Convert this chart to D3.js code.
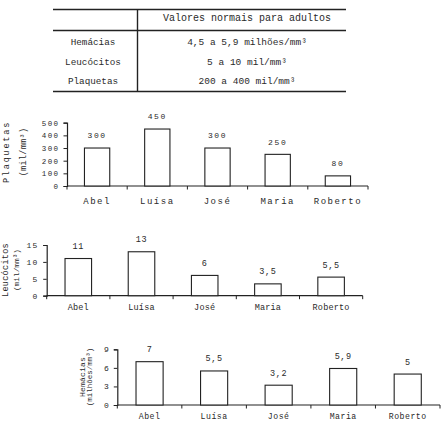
<!DOCTYPE html>
<html>
<head>
<meta charset="utf-8">
<script src="https://cdn.jsdelivr.net/npm/d3@7"></script>
<style>
  html, body { margin: 0; padding: 0; background: #fff; }
  svg text { font-family: "Liberation Mono", "DejaVu Sans Mono", monospace; fill: #2a2a2a; }
</style>
</head>
<body>
<svg id="fig" width="442" height="422"></svg>
<script>
// dados
var nomes = ["Abel", "Luísa", "José", "Maria", "Roberto"];
var plaquetas = [300, 450, 300, 250, 80];
var leucocitos = [11, 13, 6, 3.5, 5.5];
var hemacias = [7, 5.5, 3.2, 5.9, 5];
var plaquetasTicks = [0, 100, 200, 300, 400, 500];
var leucocitosTicks = [0, 5, 10, 15];
var hemaciasTicks = [0, 3, 6, 9];

var tabelaTitulo = "Valores normais para adultos";
var tabelaLinhas = ["Hemácias", "Leucócitos", "Plaquetas"];
var tabelaValores = ["4,5 a 5,9 milhões/mm³", "5 a 10 mil/mm³", "200 a 400 mil/mm³"];

var svg = d3.select("#fig");
var tinta = "#222";

// números com vírgula decimal
var fmt = d3.formatLocale({ decimal: ",", thousands: ".", grouping: [3], currency: ["", ""] }).format("~g");

// ---- tabela ----
var tab = svg.append("g");
tab.append("line").attr("x1", 53).attr("x2", 346).attr("y1", 9.5).attr("y2", 9.5)
  .attr("stroke", tinta).attr("stroke-width", 1.6);
tab.append("line").attr("x1", 53).attr("x2", 346).attr("y1", 30.5).attr("y2", 30.5)
  .attr("stroke", tinta).attr("stroke-width", 1.4);
tab.append("line").attr("x1", 53).attr("x2", 346).attr("y1", 91.5).attr("y2", 91.5)
  .attr("stroke", tinta).attr("stroke-width", 1.6);
tab.append("line").attr("x1", 137.5).attr("x2", 137.5).attr("y1", 9).attr("y2", 92)
  .attr("stroke", tinta).attr("stroke-width", 1.4);
tab.append("text").attr("x", 247).attr("y", 17.5).attr("dy", "0.35em")
  .attr("text-anchor", "middle").style("font-size", "10px").text(tabelaTitulo);

var linhaY = d3.scalePoint().domain(tabelaLinhas).range([42, 81]);
tab.selectAll("text.rot").data(tabelaLinhas).enter().append("text")
  .attr("class", "rot")
  .attr("x", 93).attr("y", function (d) { return linhaY(d); }).attr("dy", "0.35em")
  .attr("text-anchor", "middle").style("font-size", "9.3px").text(function (d) { return d; });
tab.selectAll("text.val").data(tabelaValores).enter().append("text")
  .attr("class", "val")
  .attr("x", 247).attr("y", function (d, i) { return linhaY(tabelaLinhas[i]); }).attr("dy", "0.35em")
  .attr("text-anchor", "middle").style("font-size", "9.5px").text(function (d) { return d; });

// ---- gráficos de barras ----
function grafico(cfg) {
  var g = svg.append("g");

  var x = d3.scaleBand().domain(nomes)
    .range([cfg.x0, cfg.x1])
    .paddingInner(0.58).paddingOuter(0.29);
  var y = d3.scaleLinear().domain([0, cfg.ticks[cfg.ticks.length - 1]])
    .range([cfg.y0, cfg.yTop]);

  // eixo x: linha e marcas entre categorias
  g.append("line").attr("x1", cfg.x0).attr("x2", cfg.x1)
    .attr("y1", cfg.y0).attr("y2", cfg.y0).attr("stroke", tinta).attr("stroke-width", 1.2);
  g.selectAll("line.xt").data(d3.range(nomes.length + 1)).enter().append("line")
    .attr("class", "xt")
    .attr("x1", function (i) { return cfg.x0 + i * x.step(); })
    .attr("x2", function (i) { return cfg.x0 + i * x.step(); })
    .attr("y1", cfg.y0).attr("y2", cfg.y0 + 3.5)
    .attr("stroke", tinta).attr("stroke-width", 1);

  // eixo y
  var ay = g.append("g").attr("transform", "translate(" + cfg.x0 + ",0)")
    .call(d3.axisLeft(y).tickValues(cfg.ticks).tickSize(3.5).tickPadding(cfg.tickPad).tickFormat(fmt));
  ay.select(".domain").attr("stroke", tinta).attr("stroke-width", 1.2);
  ay.selectAll(".tick line").attr("stroke", tinta);
  ay.selectAll(".tick text")
    .attr("fill", "#2a2a2a")
    .style("font-family", "Liberation Mono, monospace")
    .style("font-size", cfg.tickFont + "px")
    .style("letter-spacing", cfg.tickSpacing + "px");

  // barras
  g.selectAll("rect.bar").data(cfg.valores).enter().append("rect")
    .attr("class", "bar")
    .attr("x", function (d, i) { return x(nomes[i]); })
    .attr("width", x.bandwidth())
    .attr("y", function (d) { return y(d); })
    .attr("height", function (d) { return cfg.y0 - y(d); })
    .attr("fill", "#fff").attr("stroke", tinta).attr("stroke-width", 1.1);

  // valores acima das barras
  g.selectAll("text.v").data(cfg.valores).enter().append("text")
    .attr("class", "v")
    .attr("x", function (d, i) { return x(nomes[i]) + x.bandwidth() / 2; })
    .attr("y", function (d) { return y(d) - 12.5; })
    .attr("dy", "0.35em")
    .attr("text-anchor", "middle")
    .style("font-size", cfg.valFont + "px")
    .style("letter-spacing", cfg.valSpacing + "px")
    .text(fmt);

  // nomes
  g.selectAll("text.n").data(nomes).enter().append("text")
    .attr("class", "n")
    .attr("x", function (d) { return x(d) + x.bandwidth() / 2; })
    .attr("y", cfg.nomeY).attr("dy", "0.35em")
    .attr("text-anchor", "middle")
    .style("font-size", cfg.nomeFont + "px")
    .style("letter-spacing", cfg.nomeSpacing + "px")
    .text(function (d) { return d; });

  // título do eixo y (duas linhas giradas)
  cfg.titulo.forEach(function (t) {
    g.append("text")
      .attr("transform", "translate(" + t.x + "," + cfg.tituloY + ") rotate(-90)")
      .attr("dy", "0.35em")
      .attr("text-anchor", "middle")
      .style("font-size", t.size + "px")
      .style("letter-spacing", t.spacing + "px")
      .text(t.texto);
  });
}

grafico({
  valores: plaquetas, ticks: plaquetasTicks,
  x0: 67, x1: 368, y0: 186, yTop: 122.7,
  tickPad: 4, tickFont: 7.5, tickSpacing: 1.4,
  valFont: 8, valSpacing: 1.6,
  nomeY: 200.5, nomeFont: 9, nomeSpacing: 1.5,
  tituloY: 152,
  titulo: [
    { texto: "Plaquetas", x: 6, size: 8.5, spacing: 1.8 },
    { texto: "(mil/mm³)", x: 23, size: 8.5, spacing: 0.3 }
  ]
});

grafico({
  valores: leucocitos, ticks: leucocitosTicks,
  x0: 46.7, x1: 362.7, y0: 295.7, yTop: 245,
  tickPad: 5, tickFont: 8, tickSpacing: 1,
  valFont: 8.5, valSpacing: 0.6,
  nomeY: 306.7, nomeFont: 8.5, nomeSpacing: 0.2,
  tituloY: 270,
  titulo: [
    { texto: "Leucócitos", x: 5, size: 8.5, spacing: 0.3 },
    { texto: "(mil/mm³)", x: 16, size: 7.8, spacing: 0 }
  ]
});

grafico({
  valores: hemacias, ticks: hemaciasTicks,
  x0: 117.3, x1: 440, y0: 405, yTop: 349.3,
  tickPad: 5, tickFont: 8, tickSpacing: 0,
  valFont: 8.5, valSpacing: 0.6,
  nomeY: 416.3, nomeFont: 8.2, nomeSpacing: 0.5,
  tituloY: 377,
  titulo: [
    { texto: "Hemácias", x: 82, size: 8, spacing: 0.2 },
    { texto: "(milhões/mm³)", x: 89, size: 7.5, spacing: 0 }
  ]
});
</script>
</body>
</html>
